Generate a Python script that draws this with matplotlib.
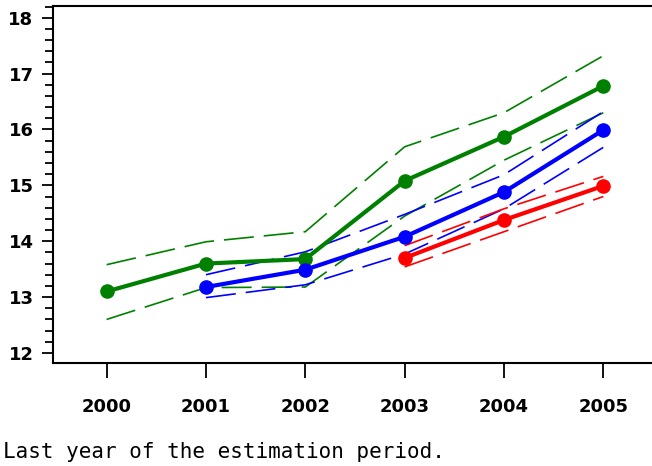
import matplotlib
matplotlib.use("Agg")
import matplotlib.pyplot as plt
from matplotlib.ticker import MultipleLocator

# years (x) for each series
years_green = [2000, 2001, 2002, 2003, 2004, 2005]
years_blue = [2001, 2002, 2003, 2004, 2005]
years_red = [2003, 2004, 2005]

# point estimates
green = [13.1, 13.6, 13.68, 15.08, 15.87, 16.78]
blue = [13.18, 13.49, 14.08, 14.88, 15.99]
red = [13.7, 14.38, 14.99]

# dashed bands (upper / lower)
green_hi = [13.58, 13.99, 14.17, 15.69, 16.3, 17.32]
green_lo = [12.6, 13.17, 13.18, 14.45, 15.45, 16.3]
blue_hi = [13.4, 13.81, 14.48, 15.19, 16.32]
blue_lo = [12.99, 13.22, 13.77, 14.58, 15.68]
red_hi = [13.92, 14.58, 15.16]
red_lo = [13.54, 14.17, 14.8]

xtick_labels = ["2000", "2001", "2002", "2003", "2004", "2005"]
note = "Last year of the estimation period."

fig = plt.figure(figsize=(6.52, 4.66), dpi=100)
ax = fig.add_axes([53 / 652, 103 / 466, 1 - 53 / 652, 357 / 466])

series = [
    (years_green, green, green_hi, green_lo, "#008000"),
    (years_blue, blue, blue_hi, blue_lo, "#0000ff"),
    (years_red, red, red_hi, red_lo, "#ff0000"),
]

# bands first, thin long dashes
for xs, mid, hi, lo, col in series:
    for band in (hi, lo):
        ax.plot(xs, band, color=col, lw=1.2, dashes=(18, 6), zorder=2)

# main lines with markers
for xs, mid, hi, lo, col in series:
    ax.plot(xs, mid, color=col, lw=3, marker="o", markersize=9.5, zorder=3)

ax.set_xlim(1999.46, 2005.49)
ax.set_ylim(11.82, 18.21)

years_all = [int(s) for s in xtick_labels]
ax.set_xticks(years_all)
ax.set_xticklabels(xtick_labels, fontsize=13, fontweight="bold")
ax.yaxis.set_major_locator(MultipleLocator(1))
ax.yaxis.set_minor_locator(MultipleLocator(0.2))
for lab in ax.get_yticklabels():
    lab.set_fontsize(13)
    lab.set_fontweight("bold")

ax.tick_params(axis="x", which="major", length=11, width=1.3, pad=14, direction="out")
ax.tick_params(axis="y", which="major", length=8, width=1.3, pad=6, direction="out")
ax.tick_params(axis="y", which="minor", length=6, width=1.3, direction="out")
ax.tick_params(top=False, right=False)

ax.spines["right"].set_visible(False)
for s in ("left", "bottom", "top"):
    ax.spines[s].set_linewidth(1.5)

fig.text(0.004, 1 - 452 / 466, note, family="DejaVu Sans Mono", fontsize=15,
         va="center", ha="left")

fig.savefig("out.png", dpi=100)
